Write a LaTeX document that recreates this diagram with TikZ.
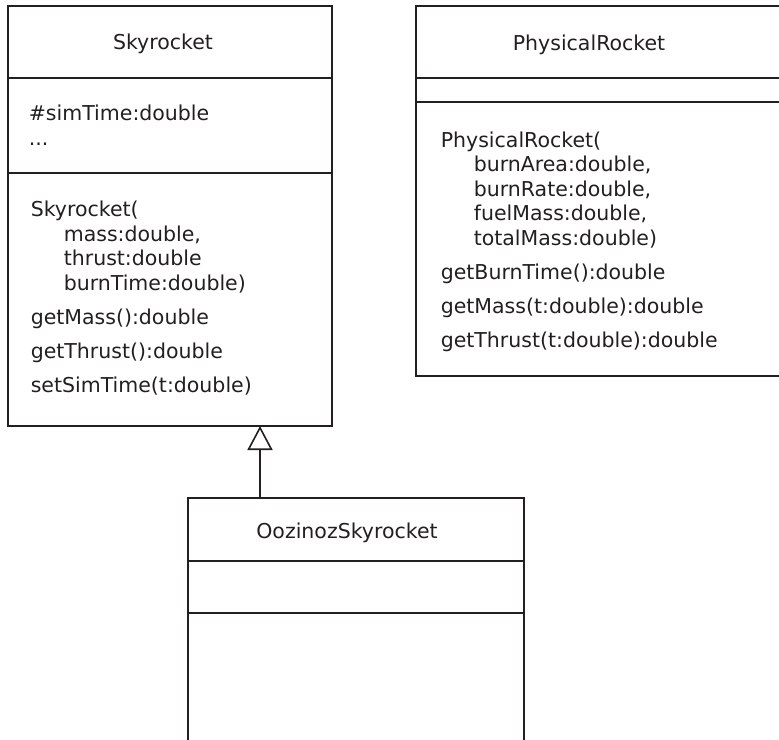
\documentclass[tikz,border=0pt]{standalone}
\usepackage{fontspec}
\setmainfont{DejaVu Sans}
\usetikzlibrary{arrows.meta}
\definecolor{umlink}{HTML}{231F20}

\begin{document}
\begin{tikzpicture}[x=1pt,y=-1pt,line width=1.6pt,draw=umlink,text=umlink,
    font=\fontsize{20.5}{24.5}\selectfont]
    \tikzstyle{classbox}=[draw, rectangle, inner sep=0pt, outer sep=0pt, anchor=north west]
    \tikzstyle{members}=[align=left, inner sep=0pt, anchor=base west]
    \tikzstyle{inherits}=[-{Triangle[open, length=24pt, width=25pt]}, line join=miter]
    \useasboundingbox (0,0) rectangle (779,739);
    % classes
    \node[classbox, minimum width=324pt, minimum height=420pt] (sky) at (8,6) {};
    \node[classbox, minimum width=390pt, minimum height=370pt] (phys) at (416,6) {};
    \node[classbox, minimum width=336pt, minimum height=270pt] (oozi) at (188,498) {};
    % compartments
    \draw ([yshift=-72pt]sky.north west) -- ([yshift=-72pt]sky.north east);
    \draw ([yshift=-167pt]sky.north west) -- ([yshift=-167pt]sky.north east);
    \draw ([yshift=-72pt]phys.north west) -- ([yshift=-72pt]phys.north east);
    \draw ([yshift=-96pt]phys.north west) -- ([yshift=-96pt]phys.north east);
    \draw ([yshift=-63pt]oozi.north west) -- ([yshift=-63pt]oozi.north east);
    \draw ([yshift=-115pt]oozi.north west) -- ([yshift=-115pt]oozi.north east);
    % names
    \node[anchor=base, inner sep=0pt] (skyname) at (163,49) {Skyrocket};
    \node[anchor=base, inner sep=0pt] (physname) at (589,50) {PhysicalRocket};
    \node[anchor=base, inner sep=0pt] (ooziname) at (347,538) {OozinozSkyrocket};
    % members (base = last line)
    \node[members] (skyattr) at (28,145) {\#simTime:double\\...};
    \node[members] (skyops) at (30,392) {Skyrocket(\\
        \hspace*{33pt}mass:double,\\
        \hspace*{33pt}thrust:double\\
        \hspace*{33pt}burnTime:double)\\[9.5pt]
        getMass():double\\[9.5pt]
        getThrust():double\\[9.5pt]
        setSimTime(t:double)};
    \node[members] (physops) at (440,347) {PhysicalRocket(\\
        \hspace*{33pt}burnArea:double,\\
        \hspace*{33pt}burnRate:double,\\
        \hspace*{33pt}fuelMass:double,\\
        \hspace*{33pt}totalMass:double)\\[9.5pt]
        getBurnTime():double\\[9.5pt]
        getMass(t:double):double\\[9.5pt]
        getThrust(t:double):double};
    % generalization
    \coordinate (gen) at ([xshift=72pt]oozi.north west);
    \draw[inherits] (gen) -- (gen |- sky.south);
\end{tikzpicture}
\end{document}
